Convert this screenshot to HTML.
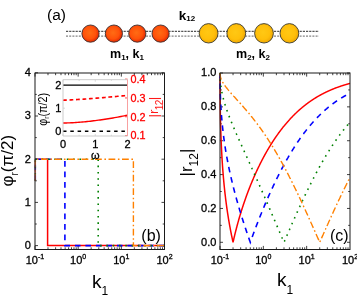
<!DOCTYPE html>
<html><head><meta charset="utf-8"><style>
html,body{margin:0;padding:0;background:#fff;}
body{width:357px;height:295px;overflow:hidden;}
svg{display:block;will-change:transform;}
</style></head><body>
<svg width="357" height="295" viewBox="0 0 357 295" font-family="Liberation Sans, sans-serif">
<defs><radialGradient id="gr" cx="45%" cy="45%" r="60%"><stop offset="0" stop-color="#ff6c14"/><stop offset="0.6" stop-color="#ff520a"/><stop offset="1" stop-color="#dc1e00"/></radialGradient>
<radialGradient id="gy" cx="45%" cy="45%" r="60%"><stop offset="0" stop-color="#ffc814"/><stop offset="0.6" stop-color="#ffbf0a"/><stop offset="1" stop-color="#eba200"/></radialGradient></defs>
<text x="47" y="20" font-size="15.5" fill="#000">(a)</text>
<g stroke-width="1" fill="none"><line x1="66" y1="31.3" x2="319" y2="31.3" stroke="#2a2a2a" stroke-dasharray="2.2,1"/><line x1="66" y1="36.1" x2="319" y2="36.1" stroke="#666" stroke-dasharray="2,1.2"/></g>
<circle cx="90.5" cy="33.6" r="8.6" fill="url(#gr)" stroke="#3a3030" stroke-width="0.9"/>
<circle cx="113.9" cy="33.6" r="8.6" fill="url(#gr)" stroke="#3a3030" stroke-width="0.9"/>
<circle cx="137.3" cy="33.6" r="8.6" fill="url(#gr)" stroke="#3a3030" stroke-width="0.9"/>
<circle cx="160.6" cy="33.6" r="8.6" fill="url(#gr)" stroke="#3a3030" stroke-width="0.9"/>
<ellipse cx="208.6" cy="33.3" rx="9.4" ry="9.7" fill="url(#gy)" stroke="#3a3a30" stroke-width="0.9"/>
<ellipse cx="236.3" cy="33.3" rx="9.4" ry="9.7" fill="url(#gy)" stroke="#3a3a30" stroke-width="0.9"/>
<ellipse cx="264.0" cy="33.3" rx="9.4" ry="9.7" fill="url(#gy)" stroke="#3a3a30" stroke-width="0.9"/>
<ellipse cx="289.4" cy="33.3" rx="9.4" ry="9.7" fill="url(#gy)" stroke="#3a3a30" stroke-width="0.9"/>
<text x="110" y="57.6" font-size="12.5" font-weight="bold" fill="#000">m<tspan font-size="8" dy="2">1</tspan><tspan dy="-2">, k</tspan><tspan font-size="8" dy="2">1</tspan></text>
<text x="236" y="57.6" font-size="12.5" font-weight="bold" fill="#000">m<tspan font-size="8" dy="2">2</tspan><tspan dy="-2">, k</tspan><tspan font-size="8" dy="2">2</tspan></text>
<text x="178.7" y="20" font-size="13.5" font-weight="bold" fill="#000">k<tspan font-size="8" dy="1">12</tspan></text>
<g stroke="#111" stroke-width="0.8">
<line x1="35.00" y1="249.5" x2="35.00" y2="245.9"/>
<line x1="35.00" y1="73.0" x2="35.00" y2="76.6"/>
<line x1="47.99" y1="249.5" x2="47.99" y2="247.3"/>
<line x1="47.99" y1="73.0" x2="47.99" y2="75.2"/>
<line x1="55.60" y1="249.5" x2="55.60" y2="247.3"/>
<line x1="55.60" y1="73.0" x2="55.60" y2="75.2"/>
<line x1="60.99" y1="249.5" x2="60.99" y2="247.3"/>
<line x1="60.99" y1="73.0" x2="60.99" y2="75.2"/>
<line x1="65.17" y1="249.5" x2="65.17" y2="247.3"/>
<line x1="65.17" y1="73.0" x2="65.17" y2="75.2"/>
<line x1="68.59" y1="249.5" x2="68.59" y2="247.3"/>
<line x1="68.59" y1="73.0" x2="68.59" y2="75.2"/>
<line x1="71.48" y1="249.5" x2="71.48" y2="247.3"/>
<line x1="71.48" y1="73.0" x2="71.48" y2="75.2"/>
<line x1="73.98" y1="249.5" x2="73.98" y2="247.3"/>
<line x1="73.98" y1="73.0" x2="73.98" y2="75.2"/>
<line x1="76.19" y1="249.5" x2="76.19" y2="247.3"/>
<line x1="76.19" y1="73.0" x2="76.19" y2="75.2"/>
<line x1="78.17" y1="249.5" x2="78.17" y2="245.9"/>
<line x1="78.17" y1="73.0" x2="78.17" y2="76.6"/>
<line x1="91.16" y1="249.5" x2="91.16" y2="247.3"/>
<line x1="91.16" y1="73.0" x2="91.16" y2="75.2"/>
<line x1="98.76" y1="249.5" x2="98.76" y2="247.3"/>
<line x1="98.76" y1="73.0" x2="98.76" y2="75.2"/>
<line x1="104.16" y1="249.5" x2="104.16" y2="247.3"/>
<line x1="104.16" y1="73.0" x2="104.16" y2="75.2"/>
<line x1="108.34" y1="249.5" x2="108.34" y2="247.3"/>
<line x1="108.34" y1="73.0" x2="108.34" y2="75.2"/>
<line x1="111.76" y1="249.5" x2="111.76" y2="247.3"/>
<line x1="111.76" y1="73.0" x2="111.76" y2="75.2"/>
<line x1="114.65" y1="249.5" x2="114.65" y2="247.3"/>
<line x1="114.65" y1="73.0" x2="114.65" y2="75.2"/>
<line x1="117.15" y1="249.5" x2="117.15" y2="247.3"/>
<line x1="117.15" y1="73.0" x2="117.15" y2="75.2"/>
<line x1="119.36" y1="249.5" x2="119.36" y2="247.3"/>
<line x1="119.36" y1="73.0" x2="119.36" y2="75.2"/>
<line x1="121.33" y1="249.5" x2="121.33" y2="245.9"/>
<line x1="121.33" y1="73.0" x2="121.33" y2="76.6"/>
<line x1="134.33" y1="249.5" x2="134.33" y2="247.3"/>
<line x1="134.33" y1="73.0" x2="134.33" y2="75.2"/>
<line x1="141.93" y1="249.5" x2="141.93" y2="247.3"/>
<line x1="141.93" y1="73.0" x2="141.93" y2="75.2"/>
<line x1="147.32" y1="249.5" x2="147.32" y2="247.3"/>
<line x1="147.32" y1="73.0" x2="147.32" y2="75.2"/>
<line x1="151.51" y1="249.5" x2="151.51" y2="247.3"/>
<line x1="151.51" y1="73.0" x2="151.51" y2="75.2"/>
<line x1="154.92" y1="249.5" x2="154.92" y2="247.3"/>
<line x1="154.92" y1="73.0" x2="154.92" y2="75.2"/>
<line x1="157.81" y1="249.5" x2="157.81" y2="247.3"/>
<line x1="157.81" y1="73.0" x2="157.81" y2="75.2"/>
<line x1="160.32" y1="249.5" x2="160.32" y2="247.3"/>
<line x1="160.32" y1="73.0" x2="160.32" y2="75.2"/>
<line x1="162.52" y1="249.5" x2="162.52" y2="247.3"/>
<line x1="162.52" y1="73.0" x2="162.52" y2="75.2"/>
<line x1="35.0" y1="245.60" x2="38.0" y2="245.60"/>
<line x1="164.5" y1="245.60" x2="161.5" y2="245.60"/>
<line x1="35.0" y1="224.00" x2="36.8" y2="224.00"/>
<line x1="164.5" y1="224.00" x2="162.7" y2="224.00"/>
<line x1="35.0" y1="202.40" x2="38.0" y2="202.40"/>
<line x1="164.5" y1="202.40" x2="161.5" y2="202.40"/>
<line x1="35.0" y1="180.80" x2="36.8" y2="180.80"/>
<line x1="164.5" y1="180.80" x2="162.7" y2="180.80"/>
<line x1="35.0" y1="159.20" x2="38.0" y2="159.20"/>
<line x1="164.5" y1="159.20" x2="161.5" y2="159.20"/>
<line x1="35.0" y1="137.60" x2="36.8" y2="137.60"/>
<line x1="164.5" y1="137.60" x2="162.7" y2="137.60"/>
<line x1="35.0" y1="116.00" x2="38.0" y2="116.00"/>
<line x1="164.5" y1="116.00" x2="161.5" y2="116.00"/>
<line x1="35.0" y1="94.40" x2="36.8" y2="94.40"/>
<line x1="164.5" y1="94.40" x2="162.7" y2="94.40"/>
<line x1="35.0" y1="72.80" x2="38.0" y2="72.80"/>
<line x1="164.5" y1="72.80" x2="161.5" y2="72.80"/>
</g>
<path d="M35.30,180.80 L35.30,159.20" fill="none" stroke="#ff0000" stroke-width="1.5" stroke-dasharray="none" opacity="0.55"/>
<path d="M35.30,159.20 L47.60,159.20 L47.60,245.60 L164.50,245.60" fill="none" stroke="#ff0000" stroke-width="1.5" stroke-dasharray="none" stroke-dashoffset="0"/>
<path d="M35.30,180.80 L35.30,159.20" fill="none" stroke="#0000ff" stroke-width="1.6" stroke-dasharray="5.6,4.9" opacity="0.55"/>
<path d="M35.30,159.20 L64.90,159.20 L64.90,245.60 L164.50,245.60" fill="none" stroke="#0000ff" stroke-width="1.6" stroke-dasharray="5.6,4.9" stroke-dashoffset="0"/>
<path d="M35.30,180.80 L35.30,159.20" fill="none" stroke="#008000" stroke-width="1.6" stroke-dasharray="1.6,4.7" opacity="0.55"/>
<path d="M35.30,159.20 L98.20,159.20 L98.20,245.60 L164.50,245.60" fill="none" stroke="#008000" stroke-width="1.6" stroke-dasharray="1.6,4.7" stroke-dashoffset="0"/>
<path d="M35.30,180.80 L35.30,159.20" fill="none" stroke="#ff8000" stroke-width="1.4" stroke-dasharray="6.8,2.6,1.6,2.5" opacity="0.55"/>
<path d="M35.30,159.20 L133.40,159.20 L133.40,245.60 L164.50,245.60" fill="none" stroke="#ff8000" stroke-width="1.4" stroke-dasharray="6.8,2.6,1.6,2.5" stroke-dashoffset="7.8"/>
<rect x="35.0" y="73.0" width="129.5" height="176.5" fill="none" stroke="#1a1a1a" stroke-width="1"/>
<text x="30.8" y="248.90" font-size="11" text-anchor="end" fill="#000" stroke="#000" stroke-width="0.3">0</text>
<text x="30.8" y="205.70" font-size="11" text-anchor="end" fill="#000" stroke="#000" stroke-width="0.3">1</text>
<text x="30.8" y="162.50" font-size="11" text-anchor="end" fill="#000" stroke="#000" stroke-width="0.3">2</text>
<text x="30.8" y="119.30" font-size="11" text-anchor="end" fill="#000" stroke="#000" stroke-width="0.3">3</text>
<text x="30.8" y="76.10" font-size="11" text-anchor="end" fill="#000" stroke="#000" stroke-width="0.3">4</text>
<text x="35.00" y="264" font-size="11" text-anchor="middle" fill="#000" stroke="#000" stroke-width="0.3">10<tspan font-size="7" dy="-5">-1</tspan></text>
<text x="78.17" y="264" font-size="11" text-anchor="middle" fill="#000" stroke="#000" stroke-width="0.3">10<tspan font-size="7" dy="-5">0</tspan></text>
<text x="121.33" y="264" font-size="11" text-anchor="middle" fill="#000" stroke="#000" stroke-width="0.3">10<tspan font-size="7" dy="-5">1</tspan></text>
<text x="164.50" y="264" font-size="11" text-anchor="middle" fill="#000" stroke="#000" stroke-width="0.3">10<tspan font-size="7" dy="-5">2</tspan></text>
<text x="220.00" y="264" font-size="11" text-anchor="middle" fill="#000" stroke="#000" stroke-width="0.3">10<tspan font-size="7" dy="-5">-1</tspan></text>
<text x="263.33" y="264" font-size="11" text-anchor="middle" fill="#000" stroke="#000" stroke-width="0.3">10<tspan font-size="7" dy="-5">0</tspan></text>
<text x="306.67" y="264" font-size="11" text-anchor="middle" fill="#000" stroke="#000" stroke-width="0.3">10<tspan font-size="7" dy="-5">1</tspan></text>
<text x="350.00" y="264" font-size="11" text-anchor="middle" fill="#000" stroke="#000" stroke-width="0.3">10<tspan font-size="7" dy="-5">2</tspan></text>
<rect x="63.0" y="79.7" width="64.5" height="56.3" fill="#fff" stroke="none"/>
<g stroke="#c8c8c8" stroke-width="0.7">
<line x1="63.00" y1="79.7" x2="63.00" y2="81.7"/>
<line x1="63.00" y1="136.0" x2="63.00" y2="134.0"/>
<line x1="79.12" y1="79.7" x2="79.12" y2="81.0"/>
<line x1="79.12" y1="136.0" x2="79.12" y2="134.7"/>
<line x1="95.25" y1="79.7" x2="95.25" y2="81.7"/>
<line x1="95.25" y1="136.0" x2="95.25" y2="134.0"/>
<line x1="111.38" y1="79.7" x2="111.38" y2="81.0"/>
<line x1="111.38" y1="136.0" x2="111.38" y2="134.7"/>
<line x1="127.50" y1="79.7" x2="127.50" y2="81.7"/>
<line x1="127.50" y1="136.0" x2="127.50" y2="134.0"/>
<line x1="63.0" y1="131.3" x2="65.0" y2="131.3"/>
<line x1="63.0" y1="108.20000000000002" x2="65.0" y2="108.20000000000002"/>
<line x1="63.0" y1="85.10000000000001" x2="65.0" y2="85.10000000000001"/>
</g>
<g stroke="#ff0000" stroke-width="0.7">
<line x1="127.5" y1="135.60" x2="125.0" y2="135.60"/>
<line x1="127.5" y1="116.77" x2="125.0" y2="116.77"/>
<line x1="127.5" y1="97.94" x2="125.0" y2="97.94"/>
<line x1="127.5" y1="79.11" x2="125.0" y2="79.11"/>
</g>
<line x1="63.0" y1="85.10000000000001" x2="127.5" y2="85.10000000000001" stroke="#000" stroke-width="1.3"/>
<line x1="63.0" y1="131.3" x2="127.5" y2="131.3" stroke="#000" stroke-width="1.4" stroke-dasharray="3.5,3.8"/>
<path d="M63.00,123.00 L64.61,122.99 L66.22,122.95 L67.84,122.90 L69.45,122.84 L71.06,122.77 L72.67,122.69 L74.29,122.60 L75.90,122.49 L77.51,122.38 L79.12,122.26 L80.74,122.13 L82.35,121.99 L83.96,121.85 L85.58,121.69 L87.19,121.53 L88.80,121.36 L90.41,121.18 L92.03,120.99 L93.64,120.80 L95.25,120.60 L96.86,120.39 L98.47,120.18 L100.09,119.96 L101.70,119.73 L103.31,119.49 L104.93,119.25 L106.54,119.00 L108.15,118.75 L109.76,118.48 L111.38,118.22 L112.99,117.94 L114.60,117.66 L116.21,117.38 L117.83,117.08 L119.44,116.78 L121.05,116.48 L122.66,116.17 L124.28,115.85 L125.89,115.53 L127.50,115.20" fill="none" stroke="#ff0000" stroke-width="1.4"/>
<path d="M63.00,100.20 L64.61,100.16 L66.22,100.10 L67.84,100.03 L69.45,99.96 L71.06,99.88 L72.67,99.79 L74.29,99.70 L75.90,99.61 L77.51,99.51 L79.12,99.41 L80.74,99.30 L82.35,99.20 L83.96,99.09 L85.58,98.97 L87.19,98.86 L88.80,98.74 L90.41,98.62 L92.03,98.50 L93.64,98.38 L95.25,98.25 L96.86,98.12 L98.47,97.99 L100.09,97.86 L101.70,97.73 L103.31,97.59 L104.93,97.46 L106.54,97.32 L108.15,97.18 L109.76,97.04 L111.38,96.90 L112.99,96.75 L114.60,96.61 L116.21,96.46 L117.83,96.31 L119.44,96.16 L121.05,96.01 L122.66,95.86 L124.28,95.71 L125.89,95.56 L127.50,95.40" fill="none" stroke="#ff0000" stroke-width="1.6" stroke-dasharray="3.8,2.7"/>
<line x1="63.0" y1="79.7" x2="127.5" y2="79.7" stroke="#ccc" stroke-width="1"/>
<line x1="63.0" y1="136.0" x2="127.5" y2="136.0" stroke="#ccc" stroke-width="1"/>
<line x1="63.0" y1="79.7" x2="63.0" y2="136.0" stroke="#ccc" stroke-width="1"/>
<line x1="127.5" y1="79.7" x2="127.5" y2="136.0" stroke="#f8a0a0" stroke-width="1"/>
<text x="61.3" y="135.30" font-size="11" text-anchor="end" fill="#000" stroke="#000" stroke-width="0.3">0</text>
<text x="61.3" y="112.20" font-size="11" text-anchor="end" fill="#000" stroke="#000" stroke-width="0.3">1</text>
<text x="61.3" y="89.10" font-size="11" text-anchor="end" fill="#000" stroke="#000" stroke-width="0.3">2</text>
<text x="63.00" y="148" font-size="11" text-anchor="middle" fill="#000" stroke="#000" stroke-width="0.3">0</text>
<text x="95.25" y="148" font-size="11" text-anchor="middle" fill="#000" stroke="#000" stroke-width="0.3">1</text>
<text x="127.50" y="148" font-size="11" text-anchor="middle" fill="#000" stroke="#000" stroke-width="0.3">2</text>
<text x="130.5" y="139.40" font-size="10.8" fill="#ff0000" stroke="#ff0000" stroke-width="0.3">0.1</text>
<text x="130.5" y="120.57" font-size="10.8" fill="#ff0000" stroke="#ff0000" stroke-width="0.3">0.2</text>
<text x="130.5" y="101.74" font-size="10.8" fill="#ff0000" stroke="#ff0000" stroke-width="0.3">0.3</text>
<text x="130.5" y="82.91" font-size="10.8" fill="#ff0000" stroke="#ff0000" stroke-width="0.3">0.4</text>
<text x="95.3" y="158.5" font-size="11" text-anchor="middle" fill="#000" stroke="#000" stroke-width="0.3">ω</text>
<text transform="translate(46.8,125.8) rotate(-90)" font-size="12.5" fill="#000" textLength="32.8" lengthAdjust="spacingAndGlyphs">φ<tspan font-size="8" dy="2.5">r</tspan><tspan dy="-2.5">(π/2)</tspan></text>
<text transform="translate(158.2,117.6) rotate(-90)" font-size="13.5" fill="#ff0000" opacity="0.9">|r<tspan font-size="10" dy="5" dx="-0.6" letter-spacing="-0.6">12</tspan><tspan dy="-5">|</tspan></text>
<text transform="translate(12.5,186.5) rotate(-90)" font-size="17" fill="#000">φ<tspan font-size="10" dy="5.5">r</tspan><tspan dy="-5.5">(π/2)</tspan></text>
<text x="141.3" y="240.5" font-size="16" fill="#000">(b)</text>
<text x="92" y="287.9" font-size="19" fill="#000">k<tspan font-size="12" dy="7.5">1</tspan></text>
<g stroke="#111" stroke-width="0.8">
<line x1="220.00" y1="249.5" x2="220.00" y2="245.9"/>
<line x1="220.00" y1="73.0" x2="220.00" y2="76.6"/>
<line x1="233.04" y1="249.5" x2="233.04" y2="247.3"/>
<line x1="233.04" y1="73.0" x2="233.04" y2="75.2"/>
<line x1="240.68" y1="249.5" x2="240.68" y2="247.3"/>
<line x1="240.68" y1="73.0" x2="240.68" y2="75.2"/>
<line x1="246.09" y1="249.5" x2="246.09" y2="247.3"/>
<line x1="246.09" y1="73.0" x2="246.09" y2="75.2"/>
<line x1="250.29" y1="249.5" x2="250.29" y2="247.3"/>
<line x1="250.29" y1="73.0" x2="250.29" y2="75.2"/>
<line x1="253.72" y1="249.5" x2="253.72" y2="247.3"/>
<line x1="253.72" y1="73.0" x2="253.72" y2="75.2"/>
<line x1="256.62" y1="249.5" x2="256.62" y2="247.3"/>
<line x1="256.62" y1="73.0" x2="256.62" y2="75.2"/>
<line x1="259.13" y1="249.5" x2="259.13" y2="247.3"/>
<line x1="259.13" y1="73.0" x2="259.13" y2="75.2"/>
<line x1="261.35" y1="249.5" x2="261.35" y2="247.3"/>
<line x1="261.35" y1="73.0" x2="261.35" y2="75.2"/>
<line x1="263.33" y1="249.5" x2="263.33" y2="245.9"/>
<line x1="263.33" y1="73.0" x2="263.33" y2="76.6"/>
<line x1="276.38" y1="249.5" x2="276.38" y2="247.3"/>
<line x1="276.38" y1="73.0" x2="276.38" y2="75.2"/>
<line x1="284.01" y1="249.5" x2="284.01" y2="247.3"/>
<line x1="284.01" y1="73.0" x2="284.01" y2="75.2"/>
<line x1="289.42" y1="249.5" x2="289.42" y2="247.3"/>
<line x1="289.42" y1="73.0" x2="289.42" y2="75.2"/>
<line x1="293.62" y1="249.5" x2="293.62" y2="247.3"/>
<line x1="293.62" y1="73.0" x2="293.62" y2="75.2"/>
<line x1="297.05" y1="249.5" x2="297.05" y2="247.3"/>
<line x1="297.05" y1="73.0" x2="297.05" y2="75.2"/>
<line x1="299.95" y1="249.5" x2="299.95" y2="247.3"/>
<line x1="299.95" y1="73.0" x2="299.95" y2="75.2"/>
<line x1="302.47" y1="249.5" x2="302.47" y2="247.3"/>
<line x1="302.47" y1="73.0" x2="302.47" y2="75.2"/>
<line x1="304.68" y1="249.5" x2="304.68" y2="247.3"/>
<line x1="304.68" y1="73.0" x2="304.68" y2="75.2"/>
<line x1="306.67" y1="249.5" x2="306.67" y2="245.9"/>
<line x1="306.67" y1="73.0" x2="306.67" y2="76.6"/>
<line x1="319.71" y1="249.5" x2="319.71" y2="247.3"/>
<line x1="319.71" y1="73.0" x2="319.71" y2="75.2"/>
<line x1="327.34" y1="249.5" x2="327.34" y2="247.3"/>
<line x1="327.34" y1="73.0" x2="327.34" y2="75.2"/>
<line x1="332.76" y1="249.5" x2="332.76" y2="247.3"/>
<line x1="332.76" y1="73.0" x2="332.76" y2="75.2"/>
<line x1="336.96" y1="249.5" x2="336.96" y2="247.3"/>
<line x1="336.96" y1="73.0" x2="336.96" y2="75.2"/>
<line x1="340.39" y1="249.5" x2="340.39" y2="247.3"/>
<line x1="340.39" y1="73.0" x2="340.39" y2="75.2"/>
<line x1="343.29" y1="249.5" x2="343.29" y2="247.3"/>
<line x1="343.29" y1="73.0" x2="343.29" y2="75.2"/>
<line x1="345.80" y1="249.5" x2="345.80" y2="247.3"/>
<line x1="345.80" y1="73.0" x2="345.80" y2="75.2"/>
<line x1="348.02" y1="249.5" x2="348.02" y2="247.3"/>
<line x1="348.02" y1="73.0" x2="348.02" y2="75.2"/>
<line x1="220.0" y1="242.30" x2="223.0" y2="242.30"/>
<line x1="350.0" y1="242.30" x2="347.0" y2="242.30"/>
<line x1="220.0" y1="225.37" x2="221.8" y2="225.37"/>
<line x1="350.0" y1="225.37" x2="348.2" y2="225.37"/>
<line x1="220.0" y1="208.44" x2="223.0" y2="208.44"/>
<line x1="350.0" y1="208.44" x2="347.0" y2="208.44"/>
<line x1="220.0" y1="191.51" x2="221.8" y2="191.51"/>
<line x1="350.0" y1="191.51" x2="348.2" y2="191.51"/>
<line x1="220.0" y1="174.58" x2="223.0" y2="174.58"/>
<line x1="350.0" y1="174.58" x2="347.0" y2="174.58"/>
<line x1="220.0" y1="157.65" x2="221.8" y2="157.65"/>
<line x1="350.0" y1="157.65" x2="348.2" y2="157.65"/>
<line x1="220.0" y1="140.72" x2="223.0" y2="140.72"/>
<line x1="350.0" y1="140.72" x2="347.0" y2="140.72"/>
<line x1="220.0" y1="123.79" x2="221.8" y2="123.79"/>
<line x1="350.0" y1="123.79" x2="348.2" y2="123.79"/>
<line x1="220.0" y1="106.86" x2="223.0" y2="106.86"/>
<line x1="350.0" y1="106.86" x2="347.0" y2="106.86"/>
<line x1="220.0" y1="89.93" x2="221.8" y2="89.93"/>
<line x1="350.0" y1="89.93" x2="348.2" y2="89.93"/>
<line x1="220.0" y1="73.00" x2="223.0" y2="73.00"/>
<line x1="350.0" y1="73.00" x2="347.0" y2="73.00"/>
</g>
<path d="M220.00,73.00 L220.22,105.92 L220.43,117.87 L220.65,126.49 L220.87,133.44 L221.09,139.33 L221.30,144.49 L221.52,149.11 L221.74,153.30 L221.95,157.15 L222.17,160.71 L222.39,164.04 L222.60,167.17 L222.82,170.12 L223.04,172.91 L223.26,175.57 L223.47,178.11 L223.69,180.53 L223.91,182.86 L224.12,185.10 L224.34,187.26 L224.56,189.34 L224.77,191.36 L224.99,193.31 L225.21,195.20 L225.43,197.03 L225.64,198.82 L225.86,200.55 L226.08,202.25 L226.29,203.89 L226.51,205.50 L226.73,207.08 L226.94,208.61 L227.16,210.11 L227.38,211.59 L227.60,213.03 L227.81,214.44 L228.03,215.82 L228.25,217.18 L228.46,218.51 L228.68,219.82 L228.90,221.11 L229.12,222.37 L229.33,223.62 L229.55,224.84 L229.77,226.04 L229.98,227.23 L230.20,228.40 L230.42,229.55 L230.63,230.68 L230.85,231.80 L231.07,232.90 L231.29,233.99 L231.50,235.06 L231.72,236.12 L231.94,237.16 L232.15,238.19 L232.37,239.21 L232.59,240.22 L232.80,241.21 L233.02,242.20 L233.04,242.30 L233.24,241.43 L233.46,240.47 L233.67,239.52 L233.89,238.58 L234.11,237.65 L234.32,236.73 L234.54,235.82 L234.76,234.92 L234.97,234.03 L235.19,233.15 L235.41,232.27 L235.63,231.40 L235.84,230.55 L236.06,229.70 L236.28,228.86 L236.49,228.02 L236.71,227.20 L236.93,226.38 L237.15,225.56 L237.36,224.76 L237.58,223.96 L237.80,223.17 L238.01,222.39 L238.23,221.61 L238.45,220.84 L238.66,220.07 L238.88,219.31 L239.10,218.56 L239.32,217.81 L239.53,217.07 L239.75,216.33 L239.97,215.60 L240.18,214.88 L240.40,214.16 L240.62,213.44 L240.83,212.73 L241.05,212.03 L241.27,211.33 L241.49,210.63 L241.70,209.94 L241.92,209.26 L242.14,208.58 L242.35,207.90 L242.57,207.23 L242.79,206.57 L243.01,205.90 L243.22,205.25 L243.44,204.59 L243.66,203.94 L243.87,203.30 L244.09,202.66 L244.31,202.02 L244.52,201.39 L244.74,200.76 L244.96,200.13 L245.18,199.51 L245.39,198.89 L245.61,198.28 L245.83,197.67 L246.04,197.06 L246.26,196.46 L246.48,195.86 L246.69,195.27 L246.91,194.67 L247.13,194.08 L247.35,193.50 L247.56,192.92 L247.78,192.34 L248.00,191.76 L248.21,191.19 L248.43,190.62 L248.65,190.05 L248.86,189.49 L249.08,188.93 L249.30,188.37 L249.52,187.82 L249.73,187.27 L249.95,186.72 L250.17,186.17 L250.38,185.63 L250.60,185.09 L250.82,184.55 L251.04,184.02 L251.25,183.49 L251.47,182.96 L251.69,182.43 L251.90,181.91 L252.12,181.39 L252.34,180.87 L252.55,180.36 L252.77,179.84 L252.99,179.33 L253.21,178.83 L253.42,178.32 L253.64,177.82 L253.86,177.32 L254.07,176.82 L254.29,176.33 L254.51,175.83 L254.72,175.34 L254.94,174.86 L255.16,174.37 L255.38,173.89 L255.59,173.41 L255.81,172.93 L256.03,172.45 L256.24,171.98 L256.46,171.51 L256.68,171.04 L256.89,170.57 L257.11,170.10 L257.33,169.64 L257.55,169.18 L257.76,168.72 L257.98,168.27 L258.20,167.81 L258.41,167.36 L258.63,166.91 L258.85,166.46 L259.07,166.02 L259.28,165.57 L259.50,165.13 L259.72,164.69 L259.93,164.25 L260.15,163.82 L260.37,163.38 L260.58,162.95 L260.80,162.52 L261.02,162.09 L261.24,161.67 L261.45,161.24 L261.67,160.82 L261.89,160.40 L262.10,159.98 L262.32,159.57 L262.54,159.15 L262.75,158.74 L262.97,158.33 L263.19,157.92 L263.41,157.51 L263.62,157.11 L263.84,156.71 L264.06,156.30 L264.27,155.90 L264.49,155.51 L264.71,155.11 L264.92,154.72 L265.14,154.32 L265.36,153.93 L265.58,153.54 L265.79,153.15 L266.01,152.77 L266.23,152.38 L266.44,152.00 L266.66,151.62 L266.88,151.24 L267.10,150.87 L267.31,150.49 L267.53,150.12 L267.75,149.74 L267.96,149.37 L268.18,149.00 L268.40,148.64 L268.61,148.27 L268.83,147.91 L269.05,147.54 L269.27,147.18 L269.48,146.82 L269.70,146.46 L269.92,146.11 L270.13,145.75 L270.35,145.40 L270.57,145.05 L270.78,144.70 L271.00,144.35 L271.22,144.00 L271.44,143.66 L271.65,143.31 L271.87,142.97 L272.09,142.63 L272.30,142.29 L272.52,141.95 L272.74,141.61 L272.95,141.28 L273.17,140.95 L273.39,140.61 L273.61,140.28 L273.82,139.95 L274.04,139.63 L274.26,139.30 L274.47,138.97 L274.69,138.65 L274.91,138.33 L275.13,138.01 L275.34,137.69 L275.56,137.37 L275.78,137.05 L275.99,136.74 L276.21,136.43 L276.43,136.11 L276.64,135.80 L276.86,135.49 L277.08,135.18 L277.30,134.88 L277.51,134.57 L277.73,134.27 L277.95,133.97 L278.16,133.66 L278.38,133.36 L278.60,133.07 L278.81,132.77 L279.03,132.47 L279.25,132.18 L279.47,131.88 L279.68,131.59 L279.90,131.30 L280.12,131.01 L280.33,130.72 L280.55,130.43 L280.77,130.15 L280.98,129.86 L281.20,129.58 L281.42,129.30 L281.64,129.02 L281.85,128.74 L282.07,128.46 L282.29,128.18 L282.50,127.91 L282.72,127.63 L282.94,127.36 L283.16,127.09 L283.37,126.82 L283.59,126.55 L283.81,126.28 L284.02,126.01 L284.24,125.74 L284.46,125.48 L284.67,125.22 L284.89,124.95 L285.11,124.69 L285.33,124.43 L285.54,124.17 L285.76,123.92 L285.98,123.66 L286.19,123.40 L286.41,123.15 L286.63,122.90 L286.84,122.64 L287.06,122.39 L287.28,122.14 L287.50,121.89 L287.71,121.65 L287.93,121.40 L288.15,121.16 L288.36,120.91 L288.58,120.67 L288.80,120.43 L289.02,120.19 L289.23,119.95 L289.45,119.71 L289.67,119.47 L289.88,119.23 L290.10,119.00 L290.32,118.76 L290.53,118.53 L290.75,118.30 L290.97,118.07 L291.19,117.84 L291.40,117.61 L291.62,117.38 L291.84,117.15 L292.05,116.93 L292.27,116.70 L292.49,116.48 L292.70,116.26 L292.92,116.03 L293.14,115.81 L293.36,115.59 L293.57,115.37 L293.79,115.16 L294.01,114.94 L294.22,114.72 L294.44,114.51 L294.66,114.30 L294.87,114.08 L295.09,113.87 L295.31,113.66 L295.53,113.45 L295.74,113.24 L295.96,113.04 L296.18,112.83 L296.39,112.62 L296.61,112.42 L296.83,112.21 L297.05,112.01 L297.26,111.81 L297.48,111.61 L297.70,111.41 L297.91,111.21 L298.13,111.01 L298.35,110.81 L298.56,110.62 L298.78,110.42 L299.00,110.23 L299.22,110.03 L299.43,109.84 L299.65,109.65 L299.87,109.46 L300.08,109.27 L300.30,109.08 L300.52,108.89 L300.73,108.71 L300.95,108.52 L301.17,108.33 L301.39,108.15 L301.60,107.97 L301.82,107.78 L302.04,107.60 L302.25,107.42 L302.47,107.24 L302.69,107.06 L302.90,106.88 L303.12,106.70 L303.34,106.53 L303.56,106.35 L303.77,106.18 L303.99,106.00 L304.21,105.83 L304.42,105.66 L304.64,105.49 L304.86,105.31 L305.08,105.14 L305.29,104.98 L305.51,104.81 L305.73,104.64 L305.94,104.47 L306.16,104.31 L306.38,104.14 L306.59,103.98 L306.81,103.81 L307.03,103.65 L307.25,103.49 L307.46,103.33 L307.68,103.17 L307.90,103.01 L308.11,102.85 L308.33,102.69 L308.55,102.53 L308.76,102.38 L308.98,102.22 L309.20,102.07 L309.42,101.91 L309.63,101.76 L309.85,101.61 L310.07,101.45 L310.28,101.30 L310.50,101.15 L310.72,101.00 L310.93,100.85 L311.15,100.71 L311.37,100.56 L311.59,100.41 L311.80,100.27 L312.02,100.12 L312.24,99.98 L312.45,99.83 L312.67,99.69 L312.89,99.55 L313.11,99.40 L313.32,99.26 L313.54,99.12 L313.76,98.98 L313.97,98.84 L314.19,98.71 L314.41,98.57 L314.62,98.43 L314.84,98.30 L315.06,98.16 L315.28,98.03 L315.49,97.89 L315.71,97.76 L315.93,97.63 L316.14,97.49 L316.36,97.36 L316.58,97.23 L316.79,97.10 L317.01,96.97 L317.23,96.84 L317.45,96.71 L317.66,96.59 L317.88,96.46 L318.10,96.33 L318.31,96.21 L318.53,96.08 L318.75,95.96 L318.96,95.83 L319.18,95.71 L319.40,95.59 L319.62,95.47 L319.83,95.35 L320.05,95.23 L320.27,95.11 L320.48,94.99 L320.70,94.87 L320.92,94.75 L321.14,94.63 L321.35,94.51 L321.57,94.40 L321.79,94.28 L322.00,94.17 L322.22,94.05 L322.44,93.94 L322.65,93.82 L322.87,93.71 L323.09,93.60 L323.31,93.49 L323.52,93.38 L323.74,93.27 L323.96,93.16 L324.17,93.05 L324.39,92.94 L324.61,92.83 L324.82,92.72 L325.04,92.61 L325.26,92.51 L325.48,92.40 L325.69,92.30 L325.91,92.19 L326.13,92.09 L326.34,91.98 L326.56,91.88 L326.78,91.78 L326.99,91.67 L327.21,91.57 L327.43,91.47 L327.65,91.37 L327.86,91.27 L328.08,91.17 L328.30,91.07 L328.51,90.97 L328.73,90.87 L328.95,90.78 L329.17,90.68 L329.38,90.58 L329.60,90.49 L329.82,90.39 L330.03,90.30 L330.25,90.20 L330.47,90.11 L330.68,90.01 L330.90,89.92 L331.12,89.83 L331.34,89.73 L331.55,89.64 L331.77,89.55 L331.99,89.46 L332.20,89.37 L332.42,89.28 L332.64,89.19 L332.85,89.10 L333.07,89.01 L333.29,88.93 L333.51,88.84 L333.72,88.75 L333.94,88.67 L334.16,88.58 L334.37,88.49 L334.59,88.41 L334.81,88.32 L335.03,88.24 L335.24,88.16 L335.46,88.07 L335.68,87.99 L335.89,87.91 L336.11,87.82 L336.33,87.74 L336.54,87.66 L336.76,87.58 L336.98,87.50 L337.20,87.42 L337.41,87.34 L337.63,87.26 L337.85,87.18 L338.06,87.10 L338.28,87.03 L338.50,86.95 L338.71,86.87 L338.93,86.80 L339.15,86.72 L339.37,86.64 L339.58,86.57 L339.80,86.49 L340.02,86.42 L340.23,86.34 L340.45,86.27 L340.67,86.20 L340.88,86.12 L341.10,86.05 L341.32,85.98 L341.54,85.91 L341.75,85.84 L341.97,85.76 L342.19,85.69 L342.40,85.62 L342.62,85.55 L342.84,85.48 L343.06,85.41 L343.27,85.35 L343.49,85.28 L343.71,85.21 L343.92,85.14 L344.14,85.07 L344.36,85.01 L344.57,84.94 L344.79,84.87 L345.01,84.81 L345.23,84.74 L345.44,84.68 L345.66,84.61 L345.88,84.55 L346.09,84.48 L346.31,84.42 L346.53,84.36 L346.74,84.29 L346.96,84.23 L347.18,84.17 L347.40,84.10 L347.61,84.04 L347.83,83.98 L348.05,83.92 L348.26,83.86 L348.48,83.80 L348.70,83.74 L348.91,83.68 L349.13,83.62 L349.35,83.56 L349.57,83.50 L349.78,83.44 L350.00,83.38" fill="none" stroke="#ff0000" stroke-width="1.5" stroke-dasharray="none"/>
<path d="M220.00,73.00 L220.22,90.30 L220.43,97.03 L220.65,102.04 L220.87,106.18 L221.09,109.77 L221.30,112.97 L221.52,115.87 L221.74,118.55 L221.95,121.04 L222.17,123.38 L222.39,125.59 L222.60,127.69 L222.82,129.69 L223.04,131.60 L223.26,133.44 L223.47,135.21 L223.69,136.92 L223.91,138.57 L224.12,140.17 L224.34,141.73 L224.56,143.24 L224.77,144.71 L224.99,146.15 L225.21,147.55 L225.43,148.92 L225.64,150.26 L225.86,151.58 L226.08,152.87 L226.29,154.13 L226.51,155.37 L226.73,156.59 L226.94,157.78 L227.16,158.96 L227.38,160.12 L227.60,161.26 L227.81,162.39 L228.03,163.50 L228.25,164.59 L228.46,165.67 L228.68,166.73 L228.90,167.78 L229.12,168.82 L229.33,169.85 L229.55,170.86 L229.77,171.86 L229.98,172.86 L230.20,173.84 L230.42,174.81 L230.63,175.77 L230.85,176.72 L231.07,177.66 L231.29,178.60 L231.50,179.52 L231.72,180.44 L231.94,181.34 L232.15,182.25 L232.37,183.14 L232.59,184.02 L232.80,184.90 L233.02,185.77 L233.24,186.64 L233.46,187.50 L233.67,188.35 L233.89,189.20 L234.11,190.04 L234.32,190.87 L234.54,191.70 L234.76,192.52 L234.97,193.34 L235.19,194.15 L235.41,194.96 L235.63,195.76 L235.84,196.56 L236.06,197.35 L236.28,198.14 L236.49,198.93 L236.71,199.70 L236.93,200.48 L237.15,201.25 L237.36,202.02 L237.58,202.78 L237.80,203.54 L238.01,204.29 L238.23,205.04 L238.45,205.79 L238.66,206.53 L238.88,207.27 L239.10,208.01 L239.32,208.74 L239.53,209.47 L239.75,210.19 L239.97,210.92 L240.18,211.64 L240.40,212.35 L240.62,213.06 L240.83,213.77 L241.05,214.48 L241.27,215.18 L241.49,215.89 L241.70,216.58 L241.92,217.28 L242.14,217.97 L242.35,218.66 L242.57,219.35 L242.79,220.03 L243.01,220.72 L243.22,221.39 L243.44,222.07 L243.66,222.75 L243.87,223.42 L244.09,224.09 L244.31,224.75 L244.52,225.42 L244.74,226.08 L244.96,226.74 L245.18,227.40 L245.39,228.05 L245.61,228.71 L245.83,229.36 L246.04,230.01 L246.26,230.65 L246.48,231.30 L246.69,231.94 L246.91,232.58 L247.13,233.22 L247.35,233.86 L247.56,234.49 L247.78,235.12 L248.00,235.76 L248.21,236.38 L248.43,237.01 L248.65,237.64 L248.86,238.26 L249.08,238.88 L249.30,239.50 L249.52,240.12 L249.73,240.73 L249.95,241.35 L250.17,241.96 L250.29,242.30 L250.38,242.03 L250.60,241.42 L250.82,240.82 L251.04,240.21 L251.25,239.61 L251.47,239.01 L251.69,238.41 L251.90,237.81 L252.12,237.21 L252.34,236.62 L252.55,236.02 L252.77,235.43 L252.99,234.84 L253.21,234.25 L253.42,233.67 L253.64,233.08 L253.86,232.50 L254.07,231.92 L254.29,231.34 L254.51,230.76 L254.72,230.18 L254.94,229.60 L255.16,229.03 L255.38,228.46 L255.59,227.88 L255.81,227.31 L256.03,226.75 L256.24,226.18 L256.46,225.61 L256.68,225.05 L256.89,224.49 L257.11,223.93 L257.33,223.37 L257.55,222.81 L257.76,222.25 L257.98,221.70 L258.20,221.14 L258.41,220.59 L258.63,220.04 L258.85,219.49 L259.07,218.94 L259.28,218.39 L259.50,217.85 L259.72,217.30 L259.93,216.76 L260.15,216.22 L260.37,215.68 L260.58,215.14 L260.80,214.61 L261.02,214.07 L261.24,213.54 L261.45,213.00 L261.67,212.47 L261.89,211.94 L262.10,211.41 L262.32,210.88 L262.54,210.36 L262.75,209.83 L262.97,209.31 L263.19,208.79 L263.41,208.27 L263.62,207.75 L263.84,207.23 L264.06,206.71 L264.27,206.20 L264.49,205.68 L264.71,205.17 L264.92,204.66 L265.14,204.15 L265.36,203.64 L265.58,203.13 L265.79,202.62 L266.01,202.12 L266.23,201.62 L266.44,201.11 L266.66,200.61 L266.88,200.11 L267.10,199.61 L267.31,199.12 L267.53,198.62 L267.75,198.13 L267.96,197.63 L268.18,197.14 L268.40,196.65 L268.61,196.16 L268.83,195.67 L269.05,195.19 L269.27,194.70 L269.48,194.22 L269.70,193.73 L269.92,193.25 L270.13,192.77 L270.35,192.29 L270.57,191.81 L270.78,191.34 L271.00,190.86 L271.22,190.39 L271.44,189.92 L271.65,189.44 L271.87,188.97 L272.09,188.51 L272.30,188.04 L272.52,187.57 L272.74,187.11 L272.95,186.64 L273.17,186.18 L273.39,185.72 L273.61,185.26 L273.82,184.80 L274.04,184.34 L274.26,183.89 L274.47,183.43 L274.69,182.98 L274.91,182.53 L275.13,182.08 L275.34,181.63 L275.56,181.18 L275.78,180.73 L275.99,180.28 L276.21,179.84 L276.43,179.40 L276.64,178.95 L276.86,178.51 L277.08,178.07 L277.30,177.63 L277.51,177.20 L277.73,176.76 L277.95,176.33 L278.16,175.89 L278.38,175.46 L278.60,175.03 L278.81,174.60 L279.03,174.17 L279.25,173.75 L279.47,173.32 L279.68,172.90 L279.90,172.47 L280.12,172.05 L280.33,171.63 L280.55,171.21 L280.77,170.79 L280.98,170.38 L281.20,169.96 L281.42,169.55 L281.64,169.13 L281.85,168.72 L282.07,168.31 L282.29,167.90 L282.50,167.49 L282.72,167.09 L282.94,166.68 L283.16,166.28 L283.37,165.87 L283.59,165.47 L283.81,165.07 L284.02,164.67 L284.24,164.27 L284.46,163.88 L284.67,163.48 L284.89,163.09 L285.11,162.69 L285.33,162.30 L285.54,161.91 L285.76,161.52 L285.98,161.13 L286.19,160.74 L286.41,160.36 L286.63,159.97 L286.84,159.59 L287.06,159.21 L287.28,158.83 L287.50,158.45 L287.71,158.07 L287.93,157.69 L288.15,157.32 L288.36,156.94 L288.58,156.57 L288.80,156.20 L289.02,155.83 L289.23,155.46 L289.45,155.09 L289.67,154.72 L289.88,154.36 L290.10,153.99 L290.32,153.63 L290.53,153.27 L290.75,152.91 L290.97,152.55 L291.19,152.19 L291.40,151.83 L291.62,151.47 L291.84,151.12 L292.05,150.76 L292.27,150.41 L292.49,150.06 L292.70,149.71 L292.92,149.36 L293.14,149.01 L293.36,148.67 L293.57,148.32 L293.79,147.98 L294.01,147.64 L294.22,147.29 L294.44,146.95 L294.66,146.61 L294.87,146.28 L295.09,145.94 L295.31,145.60 L295.53,145.27 L295.74,144.94 L295.96,144.60 L296.18,144.27 L296.39,143.94 L296.61,143.62 L296.83,143.29 L297.05,142.96 L297.26,142.64 L297.48,142.31 L297.70,141.99 L297.91,141.67 L298.13,141.35 L298.35,141.03 L298.56,140.71 L298.78,140.40 L299.00,140.08 L299.22,139.77 L299.43,139.45 L299.65,139.14 L299.87,138.83 L300.08,138.52 L300.30,138.21 L300.52,137.91 L300.73,137.60 L300.95,137.29 L301.17,136.99 L301.39,136.69 L301.60,136.39 L301.82,136.09 L302.04,135.79 L302.25,135.49 L302.47,135.19 L302.69,134.90 L302.90,134.60 L303.12,134.31 L303.34,134.01 L303.56,133.72 L303.77,133.43 L303.99,133.14 L304.21,132.86 L304.42,132.57 L304.64,132.28 L304.86,132.00 L305.08,131.72 L305.29,131.43 L305.51,131.15 L305.73,130.87 L305.94,130.59 L306.16,130.31 L306.38,130.04 L306.59,129.76 L306.81,129.49 L307.03,129.21 L307.25,128.94 L307.46,128.67 L307.68,128.40 L307.90,128.13 L308.11,127.86 L308.33,127.60 L308.55,127.33 L308.76,127.06 L308.98,126.80 L309.20,126.54 L309.42,126.28 L309.63,126.02 L309.85,125.76 L310.07,125.50 L310.28,125.24 L310.50,124.98 L310.72,124.73 L310.93,124.47 L311.15,124.22 L311.37,123.97 L311.59,123.72 L311.80,123.47 L312.02,123.22 L312.24,122.97 L312.45,122.72 L312.67,122.48 L312.89,122.23 L313.11,121.99 L313.32,121.75 L313.54,121.50 L313.76,121.26 L313.97,121.02 L314.19,120.79 L314.41,120.55 L314.62,120.31 L314.84,120.08 L315.06,119.84 L315.28,119.61 L315.49,119.37 L315.71,119.14 L315.93,118.91 L316.14,118.68 L316.36,118.45 L316.58,118.23 L316.79,118.00 L317.01,117.77 L317.23,117.55 L317.45,117.32 L317.66,117.10 L317.88,116.88 L318.10,116.66 L318.31,116.44 L318.53,116.22 L318.75,116.00 L318.96,115.78 L319.18,115.57 L319.40,115.35 L319.62,115.14 L319.83,114.92 L320.05,114.71 L320.27,114.50 L320.48,114.29 L320.70,114.08 L320.92,113.87 L321.14,113.66 L321.35,113.46 L321.57,113.25 L321.79,113.05 L322.00,112.84 L322.22,112.64 L322.44,112.44 L322.65,112.24 L322.87,112.04 L323.09,111.84 L323.31,111.64 L323.52,111.44 L323.74,111.24 L323.96,111.05 L324.17,110.85 L324.39,110.66 L324.61,110.46 L324.82,110.27 L325.04,110.08 L325.26,109.89 L325.48,109.70 L325.69,109.51 L325.91,109.32 L326.13,109.14 L326.34,108.95 L326.56,108.76 L326.78,108.58 L326.99,108.40 L327.21,108.21 L327.43,108.03 L327.65,107.85 L327.86,107.67 L328.08,107.49 L328.30,107.31 L328.51,107.13 L328.73,106.96 L328.95,106.78 L329.17,106.60 L329.38,106.43 L329.60,106.25 L329.82,106.08 L330.03,105.91 L330.25,105.74 L330.47,105.57 L330.68,105.40 L330.90,105.23 L331.12,105.06 L331.34,104.89 L331.55,104.73 L331.77,104.56 L331.99,104.40 L332.20,104.23 L332.42,104.07 L332.64,103.91 L332.85,103.74 L333.07,103.58 L333.29,103.42 L333.51,103.26 L333.72,103.10 L333.94,102.94 L334.16,102.79 L334.37,102.63 L334.59,102.47 L334.81,102.32 L335.03,102.17 L335.24,102.01 L335.46,101.86 L335.68,101.71 L335.89,101.56 L336.11,101.40 L336.33,101.25 L336.54,101.11 L336.76,100.96 L336.98,100.81 L337.20,100.66 L337.41,100.52 L337.63,100.37 L337.85,100.22 L338.06,100.08 L338.28,99.94 L338.50,99.79 L338.71,99.65 L338.93,99.51 L339.15,99.37 L339.37,99.23 L339.58,99.09 L339.80,98.95 L340.02,98.81 L340.23,98.68 L340.45,98.54 L340.67,98.40 L340.88,98.27 L341.10,98.13 L341.32,98.00 L341.54,97.87 L341.75,97.73 L341.97,97.60 L342.19,97.47 L342.40,97.34 L342.62,97.21 L342.84,97.08 L343.06,96.95 L343.27,96.82 L343.49,96.69 L343.71,96.57 L343.92,96.44 L344.14,96.32 L344.36,96.19 L344.57,96.07 L344.79,95.94 L345.01,95.82 L345.23,95.70 L345.44,95.57 L345.66,95.45 L345.88,95.33 L346.09,95.21 L346.31,95.09 L346.53,94.97 L346.74,94.86 L346.96,94.74 L347.18,94.62 L347.40,94.50 L347.61,94.39 L347.83,94.27 L348.05,94.16 L348.26,94.04 L348.48,93.93 L348.70,93.82 L348.91,93.70 L349.13,93.59 L349.35,93.48 L349.57,93.37 L349.78,93.26 L350.00,93.15" fill="none" stroke="#0000ff" stroke-width="1.6" stroke-dasharray="5.6,4.9"/>
<path d="M220.00,73.00 L220.22,79.64 L220.43,82.34 L220.65,84.40 L220.87,86.13 L221.09,87.66 L221.30,89.03 L221.52,90.30 L221.74,91.48 L221.95,92.59 L222.17,93.64 L222.39,94.65 L222.60,95.61 L222.82,96.53 L223.04,97.42 L223.26,98.28 L223.47,99.12 L223.69,99.93 L223.91,100.73 L224.12,101.50 L224.34,102.26 L224.56,103.00 L224.77,103.72 L224.99,104.44 L225.21,105.14 L225.43,105.82 L225.64,106.50 L225.86,107.17 L226.08,107.82 L226.29,108.47 L226.51,109.11 L226.73,109.75 L226.94,110.37 L227.16,110.99 L227.38,111.60 L227.60,112.20 L227.81,112.80 L228.03,113.40 L228.25,113.98 L228.46,114.57 L228.68,115.15 L228.90,115.72 L229.12,116.29 L229.33,116.85 L229.55,117.41 L229.77,117.97 L229.98,118.52 L230.20,119.08 L230.42,119.62 L230.63,120.17 L230.85,120.71 L231.07,121.24 L231.29,121.78 L231.50,122.31 L231.72,122.84 L231.94,123.37 L232.15,123.89 L232.37,124.42 L232.59,124.94 L232.80,125.46 L233.02,125.97 L233.24,126.49 L233.46,127.00 L233.67,127.51 L233.89,128.02 L234.11,128.53 L234.32,129.04 L234.54,129.54 L234.76,130.05 L234.97,130.55 L235.19,131.05 L235.41,131.55 L235.63,132.05 L235.84,132.55 L236.06,133.05 L236.28,133.54 L236.49,134.04 L236.71,134.53 L236.93,135.02 L237.15,135.52 L237.36,136.01 L237.58,136.50 L237.80,136.99 L238.01,137.48 L238.23,137.96 L238.45,138.45 L238.66,138.94 L238.88,139.42 L239.10,139.91 L239.32,140.40 L239.53,140.88 L239.75,141.36 L239.97,141.85 L240.18,142.33 L240.40,142.82 L240.62,143.30 L240.83,143.78 L241.05,144.26 L241.27,144.74 L241.49,145.23 L241.70,145.71 L241.92,146.19 L242.14,146.67 L242.35,147.15 L242.57,147.63 L242.79,148.11 L243.01,148.59 L243.22,149.07 L243.44,149.55 L243.66,150.03 L243.87,150.51 L244.09,150.99 L244.31,151.47 L244.52,151.95 L244.74,152.43 L244.96,152.90 L245.18,153.38 L245.39,153.86 L245.61,154.34 L245.83,154.82 L246.04,155.30 L246.26,155.78 L246.48,156.26 L246.69,156.74 L246.91,157.22 L247.13,157.70 L247.35,158.18 L247.56,158.66 L247.78,159.14 L248.00,159.62 L248.21,160.10 L248.43,160.58 L248.65,161.06 L248.86,161.54 L249.08,162.02 L249.30,162.50 L249.52,162.98 L249.73,163.46 L249.95,163.95 L250.17,164.43 L250.38,164.91 L250.60,165.39 L250.82,165.87 L251.04,166.36 L251.25,166.84 L251.47,167.32 L251.69,167.80 L251.90,168.29 L252.12,168.77 L252.34,169.26 L252.55,169.74 L252.77,170.22 L252.99,170.71 L253.21,171.19 L253.42,171.68 L253.64,172.17 L253.86,172.65 L254.07,173.14 L254.29,173.62 L254.51,174.11 L254.72,174.60 L254.94,175.08 L255.16,175.57 L255.38,176.06 L255.59,176.55 L255.81,177.03 L256.03,177.52 L256.24,178.01 L256.46,178.50 L256.68,178.99 L256.89,179.48 L257.11,179.97 L257.33,180.46 L257.55,180.95 L257.76,181.44 L257.98,181.93 L258.20,182.43 L258.41,182.92 L258.63,183.41 L258.85,183.90 L259.07,184.39 L259.28,184.89 L259.50,185.38 L259.72,185.87 L259.93,186.37 L260.15,186.86 L260.37,187.36 L260.58,187.85 L260.80,188.35 L261.02,188.84 L261.24,189.34 L261.45,189.83 L261.67,190.33 L261.89,190.83 L262.10,191.32 L262.32,191.82 L262.54,192.32 L262.75,192.81 L262.97,193.31 L263.19,193.81 L263.41,194.31 L263.62,194.81 L263.84,195.31 L264.06,195.81 L264.27,196.30 L264.49,196.80 L264.71,197.30 L264.92,197.80 L265.14,198.31 L265.36,198.81 L265.58,199.31 L265.79,199.81 L266.01,200.31 L266.23,200.81 L266.44,201.31 L266.66,201.82 L266.88,202.32 L267.10,202.82 L267.31,203.32 L267.53,203.83 L267.75,204.33 L267.96,204.83 L268.18,205.34 L268.40,205.84 L268.61,206.34 L268.83,206.85 L269.05,207.35 L269.27,207.86 L269.48,208.36 L269.70,208.87 L269.92,209.37 L270.13,209.88 L270.35,210.38 L270.57,210.89 L270.78,211.40 L271.00,211.90 L271.22,212.41 L271.44,212.91 L271.65,213.42 L271.87,213.93 L272.09,214.43 L272.30,214.94 L272.52,215.45 L272.74,215.95 L272.95,216.46 L273.17,216.97 L273.39,217.48 L273.61,217.98 L273.82,218.49 L274.04,219.00 L274.26,219.51 L274.47,220.01 L274.69,220.52 L274.91,221.03 L275.13,221.54 L275.34,222.04 L275.56,222.55 L275.78,223.06 L275.99,223.57 L276.21,224.08 L276.43,224.58 L276.64,225.09 L276.86,225.60 L277.08,226.11 L277.30,226.62 L277.51,227.13 L277.73,227.63 L277.95,228.14 L278.16,228.65 L278.38,229.16 L278.60,229.67 L278.81,230.17 L279.03,230.68 L279.25,231.19 L279.47,231.70 L279.68,232.20 L279.90,232.71 L280.12,233.22 L280.33,233.73 L280.55,234.23 L280.77,234.74 L280.98,235.25 L281.20,235.76 L281.42,236.26 L281.64,236.77 L281.85,237.28 L282.07,237.78 L282.29,238.29 L282.50,238.80 L282.72,239.30 L282.94,239.81 L283.16,240.31 L283.37,240.82 L283.59,241.32 L283.81,241.83 L284.01,242.30 L284.02,242.27 L284.24,241.76 L284.46,241.26 L284.67,240.75 L284.89,240.25 L285.11,239.74 L285.33,239.24 L285.54,238.74 L285.76,238.23 L285.98,237.73 L286.19,237.23 L286.41,236.73 L286.63,236.22 L286.84,235.72 L287.06,235.22 L287.28,234.72 L287.50,234.22 L287.71,233.72 L287.93,233.22 L288.15,232.72 L288.36,232.22 L288.58,231.72 L288.80,231.22 L289.02,230.72 L289.23,230.22 L289.45,229.72 L289.67,229.23 L289.88,228.73 L290.10,228.23 L290.32,227.73 L290.53,227.24 L290.75,226.74 L290.97,226.25 L291.19,225.75 L291.40,225.26 L291.62,224.76 L291.84,224.27 L292.05,223.78 L292.27,223.28 L292.49,222.79 L292.70,222.30 L292.92,221.81 L293.14,221.32 L293.36,220.83 L293.57,220.34 L293.79,219.85 L294.01,219.36 L294.22,218.87 L294.44,218.38 L294.66,217.90 L294.87,217.41 L295.09,216.92 L295.31,216.44 L295.53,215.95 L295.74,215.47 L295.96,214.98 L296.18,214.50 L296.39,214.01 L296.61,213.53 L296.83,213.05 L297.05,212.57 L297.26,212.09 L297.48,211.61 L297.70,211.13 L297.91,210.65 L298.13,210.17 L298.35,209.69 L298.56,209.22 L298.78,208.74 L299.00,208.26 L299.22,207.79 L299.43,207.31 L299.65,206.84 L299.87,206.37 L300.08,205.89 L300.30,205.42 L300.52,204.95 L300.73,204.48 L300.95,204.01 L301.17,203.54 L301.39,203.07 L301.60,202.61 L301.82,202.14 L302.04,201.67 L302.25,201.21 L302.47,200.74 L302.69,200.28 L302.90,199.81 L303.12,199.35 L303.34,198.89 L303.56,198.43 L303.77,197.97 L303.99,197.51 L304.21,197.05 L304.42,196.59 L304.64,196.13 L304.86,195.68 L305.08,195.22 L305.29,194.77 L305.51,194.31 L305.73,193.86 L305.94,193.41 L306.16,192.96 L306.38,192.51 L306.59,192.06 L306.81,191.61 L307.03,191.16 L307.25,190.71 L307.46,190.26 L307.68,189.82 L307.90,189.37 L308.11,188.93 L308.33,188.49 L308.55,188.04 L308.76,187.60 L308.98,187.16 L309.20,186.72 L309.42,186.28 L309.63,185.84 L309.85,185.41 L310.07,184.97 L310.28,184.54 L310.50,184.10 L310.72,183.67 L310.93,183.23 L311.15,182.80 L311.37,182.37 L311.59,181.94 L311.80,181.51 L312.02,181.09 L312.24,180.66 L312.45,180.23 L312.67,179.81 L312.89,179.38 L313.11,178.96 L313.32,178.54 L313.54,178.12 L313.76,177.70 L313.97,177.28 L314.19,176.86 L314.41,176.44 L314.62,176.02 L314.84,175.61 L315.06,175.19 L315.28,174.78 L315.49,174.37 L315.71,173.96 L315.93,173.55 L316.14,173.14 L316.36,172.73 L316.58,172.32 L316.79,171.91 L317.01,171.51 L317.23,171.10 L317.45,170.70 L317.66,170.30 L317.88,169.90 L318.10,169.49 L318.31,169.10 L318.53,168.70 L318.75,168.30 L318.96,167.90 L319.18,167.51 L319.40,167.11 L319.62,166.72 L319.83,166.33 L320.05,165.94 L320.27,165.55 L320.48,165.16 L320.70,164.77 L320.92,164.38 L321.14,164.00 L321.35,163.61 L321.57,163.23 L321.79,162.84 L322.00,162.46 L322.22,162.08 L322.44,161.70 L322.65,161.32 L322.87,160.95 L323.09,160.57 L323.31,160.19 L323.52,159.82 L323.74,159.45 L323.96,159.07 L324.17,158.70 L324.39,158.33 L324.61,157.96 L324.82,157.60 L325.04,157.23 L325.26,156.86 L325.48,156.50 L325.69,156.14 L325.91,155.77 L326.13,155.41 L326.34,155.05 L326.56,154.69 L326.78,154.33 L326.99,153.98 L327.21,153.62 L327.43,153.27 L327.65,152.91 L327.86,152.56 L328.08,152.21 L328.30,151.86 L328.51,151.51 L328.73,151.16 L328.95,150.81 L329.17,150.47 L329.38,150.12 L329.60,149.78 L329.82,149.44 L330.03,149.09 L330.25,148.75 L330.47,148.41 L330.68,148.08 L330.90,147.74 L331.12,147.40 L331.34,147.07 L331.55,146.73 L331.77,146.40 L331.99,146.07 L332.20,145.74 L332.42,145.41 L332.64,145.08 L332.85,144.75 L333.07,144.43 L333.29,144.10 L333.51,143.78 L333.72,143.45 L333.94,143.13 L334.16,142.81 L334.37,142.49 L334.59,142.17 L334.81,141.85 L335.03,141.54 L335.24,141.22 L335.46,140.91 L335.68,140.60 L335.89,140.28 L336.11,139.97 L336.33,139.66 L336.54,139.35 L336.76,139.05 L336.98,138.74 L337.20,138.43 L337.41,138.13 L337.63,137.83 L337.85,137.52 L338.06,137.22 L338.28,136.92 L338.50,136.62 L338.71,136.33 L338.93,136.03 L339.15,135.73 L339.37,135.44 L339.58,135.14 L339.80,134.85 L340.02,134.56 L340.23,134.27 L340.45,133.98 L340.67,133.69 L340.88,133.41 L341.10,133.12 L341.32,132.83 L341.54,132.55 L341.75,132.27 L341.97,131.99 L342.19,131.70 L342.40,131.43 L342.62,131.15 L342.84,130.87 L343.06,130.59 L343.27,130.32 L343.49,130.04 L343.71,129.77 L343.92,129.50 L344.14,129.23 L344.36,128.96 L344.57,128.69 L344.79,128.42 L345.01,128.15 L345.23,127.88 L345.44,127.62 L345.66,127.36 L345.88,127.09 L346.09,126.83 L346.31,126.57 L346.53,126.31 L346.74,126.05 L346.96,125.79 L347.18,125.54 L347.40,125.28 L347.61,125.03 L347.83,124.77 L348.05,124.52 L348.26,124.27 L348.48,124.02 L348.70,123.77 L348.91,123.52 L349.13,123.27 L349.35,123.03 L349.57,122.78 L349.78,122.54 L350.00,122.29" fill="none" stroke="#008000" stroke-width="1.6" stroke-dasharray="1.6,4.7"/>
<path d="M220.00,73.00 L220.22,75.57 L220.43,76.63 L220.65,77.44 L220.87,78.14 L221.09,78.75 L221.30,79.30 L221.52,79.82 L221.74,80.30 L221.95,80.76 L222.17,81.19 L222.39,81.60 L222.60,82.00 L222.82,82.39 L223.04,82.76 L223.26,83.12 L223.47,83.47 L223.69,83.81 L223.91,84.15 L224.12,84.48 L224.34,84.80 L224.56,85.12 L224.77,85.43 L224.99,85.73 L225.21,86.03 L225.43,86.33 L225.64,86.62 L225.86,86.91 L226.08,87.20 L226.29,87.48 L226.51,87.76 L226.73,88.04 L226.94,88.31 L227.16,88.58 L227.38,88.85 L227.60,89.12 L227.81,89.39 L228.03,89.65 L228.25,89.91 L228.46,90.17 L228.68,90.43 L228.90,90.69 L229.12,90.94 L229.33,91.20 L229.55,91.45 L229.77,91.70 L229.98,91.95 L230.20,92.20 L230.42,92.45 L230.63,92.70 L230.85,92.95 L231.07,93.20 L231.29,93.44 L231.50,93.69 L231.72,93.93 L231.94,94.18 L232.15,94.42 L232.37,94.66 L232.59,94.90 L232.80,95.15 L233.02,95.39 L233.24,95.63 L233.46,95.87 L233.67,96.11 L233.89,96.35 L234.11,96.59 L234.32,96.83 L234.54,97.07 L234.76,97.31 L234.97,97.55 L235.19,97.79 L235.41,98.03 L235.63,98.27 L235.84,98.51 L236.06,98.74 L236.28,98.98 L236.49,99.22 L236.71,99.46 L236.93,99.70 L237.15,99.94 L237.36,100.18 L237.58,100.42 L237.80,100.66 L238.01,100.90 L238.23,101.14 L238.45,101.38 L238.66,101.62 L238.88,101.86 L239.10,102.10 L239.32,102.34 L239.53,102.58 L239.75,102.82 L239.97,103.06 L240.18,103.30 L240.40,103.55 L240.62,103.79 L240.83,104.03 L241.05,104.27 L241.27,104.52 L241.49,104.76 L241.70,105.00 L241.92,105.25 L242.14,105.49 L242.35,105.74 L242.57,105.98 L242.79,106.23 L243.01,106.48 L243.22,106.72 L243.44,106.97 L243.66,107.22 L243.87,107.47 L244.09,107.71 L244.31,107.96 L244.52,108.21 L244.74,108.46 L244.96,108.71 L245.18,108.96 L245.39,109.22 L245.61,109.47 L245.83,109.72 L246.04,109.97 L246.26,110.23 L246.48,110.48 L246.69,110.74 L246.91,110.99 L247.13,111.25 L247.35,111.50 L247.56,111.76 L247.78,112.02 L248.00,112.28 L248.21,112.54 L248.43,112.80 L248.65,113.06 L248.86,113.32 L249.08,113.58 L249.30,113.84 L249.52,114.10 L249.73,114.37 L249.95,114.63 L250.17,114.90 L250.38,115.16 L250.60,115.43 L250.82,115.69 L251.04,115.96 L251.25,116.23 L251.47,116.50 L251.69,116.77 L251.90,117.04 L252.12,117.31 L252.34,117.58 L252.55,117.85 L252.77,118.13 L252.99,118.40 L253.21,118.67 L253.42,118.95 L253.64,119.23 L253.86,119.50 L254.07,119.78 L254.29,120.06 L254.51,120.34 L254.72,120.62 L254.94,120.90 L255.16,121.18 L255.38,121.46 L255.59,121.74 L255.81,122.03 L256.03,122.31 L256.24,122.60 L256.46,122.88 L256.68,123.17 L256.89,123.46 L257.11,123.75 L257.33,124.04 L257.55,124.33 L257.76,124.62 L257.98,124.91 L258.20,125.20 L258.41,125.50 L258.63,125.79 L258.85,126.09 L259.07,126.38 L259.28,126.68 L259.50,126.98 L259.72,127.27 L259.93,127.57 L260.15,127.87 L260.37,128.18 L260.58,128.48 L260.80,128.78 L261.02,129.08 L261.24,129.39 L261.45,129.69 L261.67,130.00 L261.89,130.31 L262.10,130.62 L262.32,130.93 L262.54,131.24 L262.75,131.55 L262.97,131.86 L263.19,132.17 L263.41,132.48 L263.62,132.80 L263.84,133.11 L264.06,133.43 L264.27,133.75 L264.49,134.07 L264.71,134.39 L264.92,134.71 L265.14,135.03 L265.36,135.35 L265.58,135.67 L265.79,135.99 L266.01,136.32 L266.23,136.64 L266.44,136.97 L266.66,137.30 L266.88,137.63 L267.10,137.96 L267.31,138.29 L267.53,138.62 L267.75,138.95 L267.96,139.28 L268.18,139.62 L268.40,139.95 L268.61,140.29 L268.83,140.62 L269.05,140.96 L269.27,141.30 L269.48,141.64 L269.70,141.98 L269.92,142.32 L270.13,142.66 L270.35,143.01 L270.57,143.35 L270.78,143.70 L271.00,144.04 L271.22,144.39 L271.44,144.74 L271.65,145.09 L271.87,145.44 L272.09,145.79 L272.30,146.14 L272.52,146.49 L272.74,146.85 L272.95,147.20 L273.17,147.56 L273.39,147.92 L273.61,148.27 L273.82,148.63 L274.04,148.99 L274.26,149.35 L274.47,149.71 L274.69,150.08 L274.91,150.44 L275.13,150.80 L275.34,151.17 L275.56,151.54 L275.78,151.90 L275.99,152.27 L276.21,152.64 L276.43,153.01 L276.64,153.38 L276.86,153.76 L277.08,154.13 L277.30,154.50 L277.51,154.88 L277.73,155.25 L277.95,155.63 L278.16,156.01 L278.38,156.39 L278.60,156.77 L278.81,157.15 L279.03,157.53 L279.25,157.91 L279.47,158.30 L279.68,158.68 L279.90,159.07 L280.12,159.46 L280.33,159.84 L280.55,160.23 L280.77,160.62 L280.98,161.01 L281.20,161.40 L281.42,161.79 L281.64,162.19 L281.85,162.58 L282.07,162.98 L282.29,163.37 L282.50,163.77 L282.72,164.17 L282.94,164.57 L283.16,164.97 L283.37,165.37 L283.59,165.77 L283.81,166.17 L284.02,166.57 L284.24,166.98 L284.46,167.38 L284.67,167.79 L284.89,168.20 L285.11,168.61 L285.33,169.01 L285.54,169.42 L285.76,169.84 L285.98,170.25 L286.19,170.66 L286.41,171.07 L286.63,171.49 L286.84,171.90 L287.06,172.32 L287.28,172.74 L287.50,173.15 L287.71,173.57 L287.93,173.99 L288.15,174.41 L288.36,174.83 L288.58,175.26 L288.80,175.68 L289.02,176.10 L289.23,176.53 L289.45,176.95 L289.67,177.38 L289.88,177.81 L290.10,178.23 L290.32,178.66 L290.53,179.09 L290.75,179.52 L290.97,179.96 L291.19,180.39 L291.40,180.82 L291.62,181.25 L291.84,181.69 L292.05,182.12 L292.27,182.56 L292.49,183.00 L292.70,183.44 L292.92,183.87 L293.14,184.31 L293.36,184.75 L293.57,185.20 L293.79,185.64 L294.01,186.08 L294.22,186.52 L294.44,186.97 L294.66,187.41 L294.87,187.86 L295.09,188.30 L295.31,188.75 L295.53,189.20 L295.74,189.65 L295.96,190.10 L296.18,190.55 L296.39,191.00 L296.61,191.45 L296.83,191.90 L297.05,192.35 L297.26,192.81 L297.48,193.26 L297.70,193.72 L297.91,194.17 L298.13,194.63 L298.35,195.09 L298.56,195.54 L298.78,196.00 L299.00,196.46 L299.22,196.92 L299.43,197.38 L299.65,197.84 L299.87,198.30 L300.08,198.76 L300.30,199.23 L300.52,199.69 L300.73,200.15 L300.95,200.62 L301.17,201.08 L301.39,201.55 L301.60,202.02 L301.82,202.48 L302.04,202.95 L302.25,203.42 L302.47,203.89 L302.69,204.36 L302.90,204.82 L303.12,205.30 L303.34,205.77 L303.56,206.24 L303.77,206.71 L303.99,207.18 L304.21,207.65 L304.42,208.13 L304.64,208.60 L304.86,209.08 L305.08,209.55 L305.29,210.03 L305.51,210.50 L305.73,210.98 L305.94,211.45 L306.16,211.93 L306.38,212.41 L306.59,212.89 L306.81,213.36 L307.03,213.84 L307.25,214.32 L307.46,214.80 L307.68,215.28 L307.90,215.76 L308.11,216.24 L308.33,216.72 L308.55,217.21 L308.76,217.69 L308.98,218.17 L309.20,218.65 L309.42,219.14 L309.63,219.62 L309.85,220.10 L310.07,220.59 L310.28,221.07 L310.50,221.56 L310.72,222.04 L310.93,222.53 L311.15,223.01 L311.37,223.50 L311.59,223.98 L311.80,224.47 L312.02,224.96 L312.24,225.44 L312.45,225.93 L312.67,226.42 L312.89,226.90 L313.11,227.39 L313.32,227.88 L313.54,228.37 L313.76,228.86 L313.97,229.34 L314.19,229.83 L314.41,230.32 L314.62,230.81 L314.84,231.30 L315.06,231.79 L315.28,232.28 L315.49,232.77 L315.71,233.26 L315.93,233.75 L316.14,234.24 L316.36,234.73 L316.58,235.22 L316.79,235.71 L317.01,236.20 L317.23,236.69 L317.45,237.18 L317.66,237.67 L317.88,238.16 L318.10,238.65 L318.31,239.14 L318.53,239.63 L318.75,240.12 L318.96,240.61 L319.18,241.10 L319.40,241.59 L319.62,242.08 L319.71,242.30 L319.83,242.02 L320.05,241.53 L320.27,241.04 L320.48,240.55 L320.70,240.06 L320.92,239.57 L321.14,239.08 L321.35,238.59 L321.57,238.10 L321.79,237.61 L322.00,237.12 L322.22,236.63 L322.44,236.14 L322.65,235.65 L322.87,235.16 L323.09,234.67 L323.31,234.19 L323.52,233.70 L323.74,233.21 L323.96,232.72 L324.17,232.23 L324.39,231.74 L324.61,231.26 L324.82,230.77 L325.04,230.28 L325.26,229.79 L325.48,229.31 L325.69,228.82 L325.91,228.33 L326.13,227.85 L326.34,227.36 L326.56,226.87 L326.78,226.39 L326.99,225.90 L327.21,225.42 L327.43,224.93 L327.65,224.45 L327.86,223.96 L328.08,223.48 L328.30,223.00 L328.51,222.51 L328.73,222.03 L328.95,221.55 L329.17,221.07 L329.38,220.58 L329.60,220.10 L329.82,219.62 L330.03,219.14 L330.25,218.66 L330.47,218.18 L330.68,217.70 L330.90,217.22 L331.12,216.75 L331.34,216.27 L331.55,215.79 L331.77,215.31 L331.99,214.84 L332.20,214.36 L332.42,213.88 L332.64,213.41 L332.85,212.93 L333.07,212.46 L333.29,211.99 L333.51,211.51 L333.72,211.04 L333.94,210.57 L334.16,210.09 L334.37,209.62 L334.59,209.15 L334.81,208.68 L335.03,208.21 L335.24,207.74 L335.46,207.28 L335.68,206.81 L335.89,206.34 L336.11,205.87 L336.33,205.41 L336.54,204.94 L336.76,204.48 L336.98,204.01 L337.20,203.55 L337.41,203.09 L337.63,202.62 L337.85,202.16 L338.06,201.70 L338.28,201.24 L338.50,200.78 L338.71,200.32 L338.93,199.86 L339.15,199.40 L339.37,198.95 L339.58,198.49 L339.80,198.03 L340.02,197.58 L340.23,197.12 L340.45,196.67 L340.67,196.22 L340.88,195.77 L341.10,195.31 L341.32,194.86 L341.54,194.41 L341.75,193.96 L341.97,193.51 L342.19,193.07 L342.40,192.62 L342.62,192.17 L342.84,191.73 L343.06,191.28 L343.27,190.84 L343.49,190.40 L343.71,189.95 L343.92,189.51 L344.14,189.07 L344.36,188.63 L344.57,188.19 L344.79,187.75 L345.01,187.32 L345.23,186.88 L345.44,186.44 L345.66,186.01 L345.88,185.57 L346.09,185.14 L346.31,184.71 L346.53,184.28 L346.74,183.84 L346.96,183.41 L347.18,182.99 L347.40,182.56 L347.61,182.13 L347.83,181.70 L348.05,181.28 L348.26,180.85 L348.48,180.43 L348.70,180.01 L348.91,179.58 L349.13,179.16 L349.35,178.74 L349.57,178.32 L349.78,177.91 L350.00,177.49" fill="none" stroke="#ff8000" stroke-width="1.4" stroke-dasharray="6.8,2.6,1.6,2.5"/>
<rect x="220.0" y="73.0" width="130.0" height="176.5" fill="none" stroke="#1a1a1a" stroke-width="1"/>
<text x="216.4" y="245.60" font-size="11" text-anchor="end" fill="#000" stroke="#000" stroke-width="0.3">0.0</text>
<text x="216.4" y="211.74" font-size="11" text-anchor="end" fill="#000" stroke="#000" stroke-width="0.3">0.2</text>
<text x="216.4" y="177.88" font-size="11" text-anchor="end" fill="#000" stroke="#000" stroke-width="0.3">0.4</text>
<text x="216.4" y="144.02" font-size="11" text-anchor="end" fill="#000" stroke="#000" stroke-width="0.3">0.6</text>
<text x="216.4" y="110.16" font-size="11" text-anchor="end" fill="#000" stroke="#000" stroke-width="0.3">0.8</text>
<text x="216.4" y="76.30" font-size="11" text-anchor="end" fill="#000" stroke="#000" stroke-width="0.3">1.0</text>
<text transform="translate(191.5,176.5) rotate(-90)" font-size="17" fill="#000">|r<tspan font-size="12" dy="6.2">12</tspan><tspan dy="-6.2">|</tspan></text>
<text x="330" y="240.5" font-size="16" fill="#000">(c)</text>
<text x="277" y="286.3" font-size="19" fill="#000">k<tspan font-size="12" dy="7.6">1</tspan></text>
</svg>
</body></html>
